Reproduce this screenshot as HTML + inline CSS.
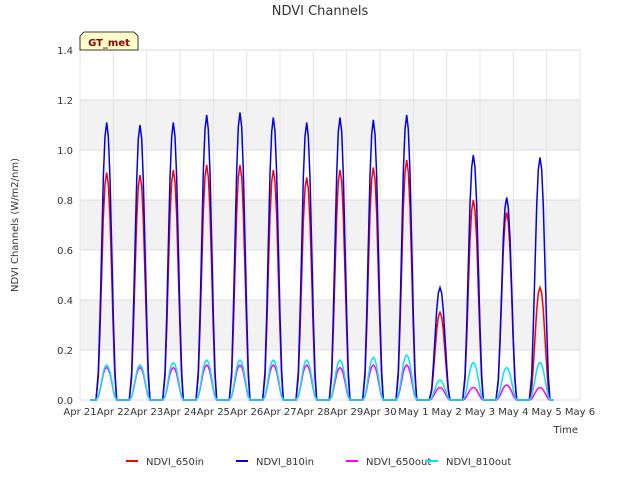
<!DOCTYPE html>
<html><head><meta charset="utf-8"><style>
body{margin:0;background:#fff;font-family:"Liberation Sans","DejaVu Sans",sans-serif}
text{font-family:"DejaVu Sans","Liberation Sans",sans-serif}
</style></head><body>
<svg id="chart" width="640" height="480" xmlns="http://www.w3.org/2000/svg">
<rect width="640" height="480" fill="#fff"/>
<g id="grid"></g>
<g id="series"></g>
<g id="axes"></g>
<text x="320" y="15" text-anchor="middle" font-size="13" fill="#333">NDVI Channels</text>
<text transform="translate(18,225) rotate(-90)" text-anchor="middle" font-size="10" fill="#333">NDVI Channels (W/m2/nm)</text>
<text x="578" y="433" text-anchor="end" font-size="10" fill="#333">Time</text>
<g>
<path d="M80,50 L80,36 L84,32 L134,32 L138,36 L138,50 Z" fill="#ffffcc" stroke="#000" stroke-width="0.8"/>
<text x="109" y="46" text-anchor="middle" font-size="10" font-weight="bold" fill="#8b0000">GT_met</text>
</g>
<g id="legend"></g>
</svg>
<script>
const categories=["Apr 21","Apr 22","Apr 23","Apr 24","Apr 25","Apr 26","Apr 27","Apr 28","Apr 29","Apr 30","May 1","May 2","May 3","May 4","May 5","May 6"];
const yTicks=[0,0.2,0.4,0.6,0.8,1.0,1.2,1.4];
const ndvi650in=[0.91,0.90,0.92,0.94,0.94,0.92,0.89,0.92,0.93,0.96,0.35,0.80,0.75,0.45];
const ndvi810in=[1.11,1.10,1.11,1.14,1.15,1.13,1.11,1.13,1.12,1.14,0.45,0.98,0.81,0.97];
const ndvi650out=[0.13,0.13,0.13,0.14,0.14,0.14,0.14,0.13,0.14,0.14,0.05,0.05,0.06,0.05];
const ndvi810out=[0.14,0.14,0.15,0.16,0.16,0.16,0.16,0.16,0.17,0.18,0.08,0.15,0.13,0.15];
const profT=[0.48,0.55,0.6,0.65,0.7,0.75,0.8,0.85,0.9,0.95,1.0,1.05,1.1];
const profV=[0,0.1,0.3,0.55,0.8,0.95,1,0.95,0.8,0.55,0.3,0.1,0];
const X0=80,X1=580,Y0=400,Y1=50;
const xs=d=>X0+(X1-X0)*d/15;
const ys=v=>Y0-(Y0-Y1)*v/1.4;
const NS="http://www.w3.org/2000/svg";
function mk(t,a,p){const e=document.createElementNS(NS,t);for(const k in a)e.setAttribute(k,a[k]);(p||document.getElementById('chart')).appendChild(e);return e;}
const grid=document.getElementById('grid');
for(let i=0;i<7;i++){
 if(i%2===1){const r=mk('rect',{x:X0,y:ys(yTicks[i+1]),width:X1-X0,height:ys(yTicks[i])-ys(yTicks[i+1]),fill:'#f2f2f2'},grid);}
}
yTicks.forEach(v=>{const l=mk('line',{x1:X0,x2:X1,y1:ys(v),y2:ys(v),stroke:'#ddd'},grid);});
categories.forEach((c,i)=>{const l=mk('line',{x1:xs(i),x2:xs(i),y1:Y1,y2:Y0,stroke:'#e4e4e4'},grid);});
const axes=document.getElementById('axes');
yTicks.forEach(v=>{const t=mk('text',{x:X0-7,y:ys(v)+4,'text-anchor':'end','font-size':10,fill:'#333'},axes);t.textContent=v.toFixed(1);});
categories.forEach((c,i)=>{const t=mk('text',{x:xs(i),y:Y0+15,'text-anchor':'middle','font-size':10,fill:'#333'},axes);t.textContent=c;});
const series=[["NDVI_650in",ndvi650in,"#ff0000"],["NDVI_810in",ndvi810in,"#0000ee"],["NDVI_650out",ndvi650out,"#ff00ff"],["NDVI_810out",ndvi810out,"#00e5ff"]];
const sg=document.getElementById('series');
series.forEach(([name,vals,col])=>{
 let d=`M${xs(0.3)},${ys(0)}`;
 vals.forEach((p,i)=>{profT.forEach((t,j)=>{d+=` L${xs(i+t).toFixed(1)},${ys(p*profV[j]).toFixed(1)}`;});});
 d+=` L${xs(14.2)},${ys(0)}`;
 const e=mk('path',{d:d,fill:'none',stroke:col,'stroke-width':1.5},sg);
 
 
});
const lg=document.getElementById('legend');
const lx=[126,236,346,426];
series.forEach(([name,vals,col],i)=>{
 const g=mk('g',{},lg);
 
 
 mk('line',{x1:lx[i],x2:lx[i]+12,y1:461,y2:461,stroke:col,'stroke-width':2},g);
 const t=mk('text',{x:lx[i]+20,y:465,'font-size':10,fill:'#333'},g);t.textContent=name;
});
</script>
</body></html>
